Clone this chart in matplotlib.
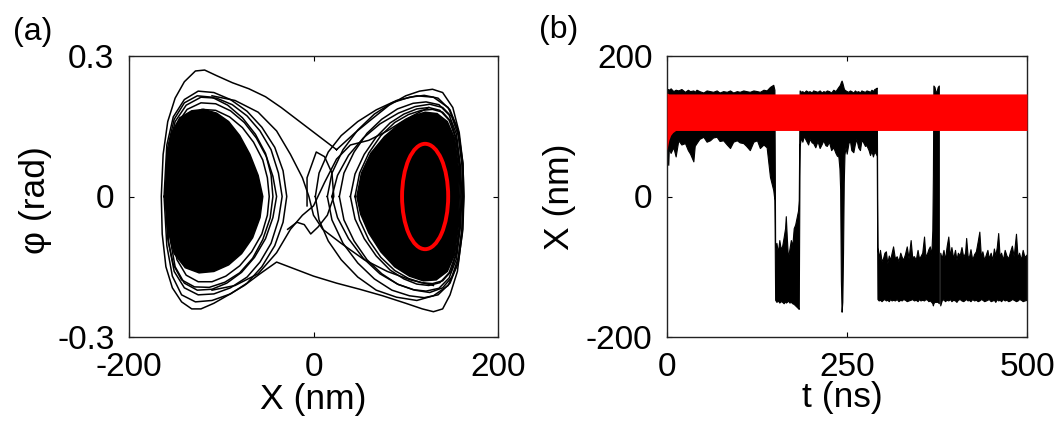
import numpy as np
import matplotlib
matplotlib.use("Agg")
import matplotlib.pyplot as plt
from matplotlib.patches import Ellipse, Polygon

plt.rcParams['font.family'] = ['Liberation Sans', 'DejaVu Sans']
plt.rcParams['axes.unicode_minus'] = False

# ---------------- Panel (a): phase portrait (X in nm, phi in rad) ----------------
left_core_x = [-160, -159, -154, -145, -132, -119, -105, -92, -80, -69, -60, -55, -58, -66, -78, -92, -108, -124, -139, -151, -158]
left_core_phi = [0.0, 0.08, 0.135, 0.168, 0.183, 0.186, 0.178, 0.16, 0.13, 0.09, 0.045, 0.0, -0.045, -0.088, -0.122, -0.146, -0.16, -0.163, -0.152, -0.122, -0.07]

right_core_x = [47, 52, 62, 77, 93, 108, 121, 134, 145, 153, 157, 158, 157, 153, 145, 133, 119, 104, 88, 73, 60, 51]
right_core_phi = [0.0, 0.05, 0.092, 0.128, 0.155, 0.172, 0.18, 0.177, 0.16, 0.124, 0.063, 0.0, -0.063, -0.124, -0.16, -0.178, -0.18, -0.17, -0.15, -0.118, -0.078, -0.037]

ringLa_x = [-160, -157, -150, -138, -122, -105, -88, -72, -58, -46, -38, -34, -38, -46, -58, -72, -90, -108, -125, -140, -151, -157, -160]
ringLa_phi = [0, 0.1, 0.16, 0.195, 0.212, 0.21, 0.196, 0.172, 0.14, 0.1, 0.05, 0, -0.05, -0.1, -0.14, -0.172, -0.195, -0.208, -0.21, -0.195, -0.16, -0.1, 0]
ringLb_x = [-158, -155, -148, -137, -122, -106, -90, -75, -62, -51, -44, -40, -44, -52, -64, -78, -94, -110, -126, -140, -150, -155, -158]
ringLb_phi = [0, 0.1, 0.155, 0.186, 0.2, 0.198, 0.183, 0.158, 0.125, 0.085, 0.043, 0, -0.045, -0.09, -0.13, -0.162, -0.185, -0.198, -0.2, -0.185, -0.15, -0.095, 0]
ringLc_x = [-162, -159, -152, -140, -125, -108, -90, -72, -56, -42, -33, -29, -33, -42, -56, -72, -90, -110, -128, -143, -153, -159, -162]
ringLc_phi = [0, 0.11, 0.17, 0.207, 0.225, 0.222, 0.207, 0.182, 0.148, 0.105, 0.055, 0, -0.055, -0.105, -0.15, -0.185, -0.208, -0.222, -0.225, -0.21, -0.17, -0.105, 0]
ringLd_x = [-156, -153, -146, -135, -121, -106, -91, -77, -65, -55, -50, -48, -50, -56, -67, -80, -95, -110, -125, -138, -148, -153, -156]
ringLd_phi = [0, 0.1, 0.148, 0.174, 0.186, 0.184, 0.17, 0.147, 0.116, 0.078, 0.04, 0, -0.04, -0.08, -0.118, -0.148, -0.17, -0.182, -0.182, -0.168, -0.135, -0.085, 0]
ringLe_x = [-161, -158, -151, -140, -126, -110, -93, -77, -63, -52, -46, -44, -47, -55, -66, -80, -96, -113, -129, -143, -152, -158, -161]
ringLe_phi = [0, 0.105, 0.165, 0.2, 0.215, 0.212, 0.195, 0.168, 0.133, 0.092, 0.046, 0, -0.046, -0.092, -0.132, -0.163, -0.183, -0.194, -0.193, -0.178, -0.145, -0.09, 0]

ringRa_x = [15, 20, 32, 48, 66, 85, 104, 120, 135, 148, 157, 162, 163, 162, 157, 148, 135, 120, 104, 85, 66, 48, 32, 20, 15]
ringRa_phi = [0, 0.05, 0.1, 0.142, 0.176, 0.2, 0.212, 0.216, 0.21, 0.185, 0.14, 0.07, 0, -0.07, -0.14, -0.185, -0.21, -0.216, -0.212, -0.2, -0.176, -0.142, -0.1, -0.05, 0]
ringRb_x = [28, 33, 44, 58, 74, 91, 108, 122, 136, 147, 155, 159, 161, 159, 155, 147, 136, 122, 108, 91, 74, 58, 44, 33, 28]
ringRb_phi = [0, 0.05, 0.095, 0.135, 0.165, 0.187, 0.199, 0.202, 0.196, 0.174, 0.133, 0.068, 0, -0.068, -0.133, -0.174, -0.196, -0.202, -0.199, -0.187, -0.165, -0.135, -0.095, -0.05, 0]
ringRc_x = [40, 45, 55, 68, 83, 98, 112, 125, 137, 147, 154, 158, 159, 158, 154, 147, 137, 125, 112, 98, 83, 68, 55, 45, 40]
ringRc_phi = [0, 0.048, 0.09, 0.127, 0.157, 0.176, 0.187, 0.19, 0.184, 0.163, 0.125, 0.064, 0, -0.064, -0.125, -0.163, -0.184, -0.19, -0.187, -0.176, -0.157, -0.127, -0.09, -0.048, 0]
ringRd_x = [2, 6, 16, 30, 48, 68, 90, 112, 130, 146, 156, 161, 162, 161, 156, 146, 130, 112, 90, 68, 48, 30, 16, 6, 2]
ringRd_phi = [0, 0.05, 0.095, 0.13, 0.16, 0.185, 0.205, 0.215, 0.212, 0.19, 0.145, 0.075, 0, -0.075, -0.145, -0.19, -0.212, -0.222, -0.215, -0.2, -0.172, -0.135, -0.095, -0.05, 0]
ringRe_x = [45, 50, 60, 73, 88, 103, 117, 129, 140, 149, 155, 159, 160, 159, 155, 149, 140, 129, 117, 103, 88, 73, 60, 50, 45]
ringRe_phi = [0, 0.05, 0.093, 0.13, 0.158, 0.175, 0.184, 0.186, 0.18, 0.16, 0.122, 0.062, 0, -0.062, -0.122, -0.16, -0.18, -0.186, -0.184, -0.175, -0.158, -0.13, -0.093, -0.05, 0]
ringRf_x = [20, 26, 38, 54, 72, 92, 110, 126, 140, 150, 157, 161, 162, 161, 157, 150, 140, 126, 110, 92, 72, 54, 38, 26, 20]
ringRf_phi = [0, 0.045, 0.088, 0.125, 0.155, 0.178, 0.192, 0.197, 0.19, 0.17, 0.13, 0.066, 0, -0.066, -0.13, -0.172, -0.195, -0.205, -0.2, -0.188, -0.165, -0.132, -0.09, -0.045, 0]

outer_x = [25, 5, -15, -35, -52, -70, -88, -105, -118, -128, -140, -150, -158, -163, -165, -164, -160, -153, -143, -132, -122, -108, -92, -75, -58, -40, -20, 0, 25, 50, 75, 100, 118, 130, 140, 148, 156, 161, 163, 162, 158, 151, 140, 129, 115, 100, 82, 63, 45, 25]
outer_phi = [0.10, 0.13, 0.16, 0.19, 0.213, 0.23, 0.243, 0.258, 0.27, 0.268, 0.245, 0.21, 0.16, 0.09, 0.0, -0.08, -0.15, -0.195, -0.225, -0.24, -0.24, -0.228, -0.21, -0.19, -0.165, -0.14, -0.155, -0.17, -0.185, -0.198, -0.212, -0.228, -0.24, -0.246, -0.24, -0.21, -0.16, -0.08, 0.0, 0.07, 0.136, 0.19, 0.222, 0.229, 0.225, 0.215, 0.195, 0.165, 0.136, 0.10]

cross1_x = [-110, -85, -60, -40, -25, -12, -5, 0, 10, 30, 55, 80, 105, 130]
cross1_phi = [0.215, 0.205, 0.18, 0.14, 0.09, 0.04, 0.0, -0.04, -0.07, -0.1, -0.135, -0.16, -0.178, -0.19]
cross2_x = [-110, -85, -60, -40, -25, -12, 0, 12, 25, 40, 60, 80, 100, 125]
cross2_phi = [-0.2, -0.19, -0.165, -0.12, -0.07, -0.04, -0.02, 0.03, 0.08, 0.11, 0.12, 0.14, 0.165, 0.19]
center_x = [-28, -18, -10, -3, 5, 15, 22, 20, 12, 3, -7, -7]
center_phi = [-0.07, -0.055, -0.06, -0.08, -0.065, -0.04, 0.0, 0.05, 0.085, 0.095, 0.04, -0.02]

cycle_center = (121, 0.0)
cycle_width = 50
cycle_height = 0.225

# ---------------- Panel (b): time series ----------------
up1_t = [0, 1.8, 2.5, 5, 8.8, 12, 15.7, 20, 25, 29, 32, 36.6, 38.5, 41, 45, 50.5, 55, 59.7, 64, 69, 73, 78, 83, 87.5, 92, 97, 101, 106, 110, 115, 120, 125, 129, 134, 138.4, 143, 147.6, 149.2]
up1_hi = [145, 153, 151, 154, 150, 152, 151, 153, 149, 152, 150, 151, 149, 152, 150, 148, 151, 150, 149, 151, 148, 150, 149, 151, 148, 150, 149, 151, 150, 149, 151, 150, 149, 152, 151, 156, 159, 152]
up1_lo = [55, 45, 69, 62, 70, 57, 80, 74, 76, 66, 61, 50, 72, 76, 82, 85, 78, 80, 84, 85, 79, 80, 74, 69, 78, 80, 77, 76, 72, 66, 78, 80, 69, 74, 70, 28, 9, -5]

dn1_t = [150.2, 152, 154, 156, 158, 160, 162, 164, 165, 166.5, 168, 170, 172, 174, 176, 178, 180, 182, 183]
dn1_hi = [-72, -66, -80, -62, -75, -70, -58, -45, -28, -60, -88, -75, -62, -70, -45, -40, -30, -20, -5]
dn1_lo = [-147, -150, -148, -151, -149, -150, -152, -149, -151, -150, -148, -151, -150, -152, -153, -155, -157, -159, -160]

up2_t = [184.2, 186, 188, 190, 193, 196, 198, 201, 203, 206, 209, 212, 215, 217, 220, 222, 225, 228, 231, 234, 236, 238, 239.5]
up2_hi = [151, 149, 150, 148, 151, 149, 150, 148, 151, 150, 149, 151, 148, 150, 149, 151, 150, 148, 152, 150, 153, 156, 158]
up2_lo = [72, 84, 78, 86, 80, 74, 82, 77, 76, 70, 79, 69, 75, 80, 73, 72, 78, 66, 70, 62, 58, 57, 40]

sp1_t = [240.5, 241.5, 242.5, 243.5, 244.5, 245.5, 246.5]
sp1_hi = [160, 163, 165, 162, 158, 154, 152]
sp1_lo = [10, -120, -164, -150, -80, 20, 60]

up3_t = [248, 249.6, 252, 254, 256, 258.8, 261, 263, 265.5, 268, 270, 272, 275, 277, 280, 282, 284, 286, 288, 290, 291.3]
up3_hi = [151, 150, 149, 151, 150, 148, 151, 149, 150, 148, 151, 150, 149, 151, 150, 149, 152, 150, 153, 154, 155]
up3_lo = [70, 61, 76, 80, 66, 63, 75, 82, 70, 66, 80, 78, 72, 73, 66, 59, 65, 57, 64, 61, 58]

dn2_t = [292.3, 294, 295.8, 298, 300, 302, 304, 306, 308, 310, 312, 314, 316.5, 319, 321.5, 324, 326, 328, 330.5, 333, 335.5, 338.4, 340.5, 343, 345.5, 348, 350, 352, 354.5, 357, 359, 361.5, 363, 365, 367, 368.5, 369.3]
dn2_hi = [-72, -88, -76, -92, -88, -80, -78, -95, -84, -90, -80, -71, -88, -85, -92, -80, -86, -90, -82, -71, -88, -62, -86, -85, -90, -76, -88, -85, -80, -57, -86, -80, -75, -71, -84, -48, 30]
dn2_lo = [-146, -148, -147, -149, -147, -146, -148, -147, -149, -146, -148, -147, -148, -146, -149, -147, -148, -146, -147, -149, -148, -147, -146, -148, -147, -149, -146, -148, -147, -148, -146, -147, -149, -148, -150, -152, -155]

sp2_t = [370, 371.5, 373, 374.5, 376, 377.5]
sp2_hi = [158, 156, 149, 150, 156, 158]
sp2_lo = [-152, -150, -150, -150, -150, -152]

dn3_t = [379.5, 381.5, 384, 386, 388.5, 390.7, 393, 395, 397.5, 400, 402, 404, 406.5, 409, 411.5, 414, 415.5, 417.5, 419, 421.5, 424, 426.5, 429, 431.5, 433.8, 436, 438, 440.5, 443, 445, 447, 449.5, 452, 454, 456, 458, 460, 462, 464, 466.5, 469, 471.5, 474, 476.5, 479, 481.5, 484.7, 487, 489, 491.5, 494, 496.5, 500]
dn3_hi = [-80, -88, -76, -90, -70, -57, -85, -72, -88, -76, -90, -80, -84, -72, -86, -80, -59, -84, -88, -75, -90, -82, -78, -64, -50, -86, -78, -90, -82, -76, -88, -80, -90, -74, -84, -72, -52, -86, -80, -90, -76, -84, -88, -78, -70, -85, -53, -88, -80, -90, -76, -86, -82]
dn3_lo = [-155, -148, -146, -149, -147, -148, -146, -149, -147, -148, -150, -147, -146, -148, -149, -147, -146, -148, -147, -149, -146, -148, -147, -149, -148, -146, -147, -149, -148, -147, -146, -149, -148, -147, -150, -146, -148, -147, -149, -146, -148, -147, -149, -148, -146, -147, -149, -148, -146, -147, -149, -148, -147]

red_t = [0, 1, 2.5, 5, 8, 12, 500]
red_hi = [147, 147, 146, 146, 146, 146, 146]
red_lo = [66, 72, 80, 87, 91, 94, 94]

# ---------------- Figure ----------------
W, H = 1062, 421
fig = plt.figure(figsize=(W / 100, H / 100), dpi=100)
axA = fig.add_axes([129 / W, 1 - 337 / H, 369 / W, 281 / H])
axB = fig.add_axes([667 / W, 1 - 337 / H, 360 / W, 281 / H])

TICK_FS = 24
LABEL_FS = 25.5

lw = 1.1
axA.add_patch(Polygon(np.column_stack([left_core_x, left_core_phi]), closed=True,
                      facecolor='black', edgecolor='black', lw=lw))
axA.add_patch(Polygon(np.column_stack([right_core_x, right_core_phi]), closed=True,
                      facecolor='black', edgecolor='black', lw=lw))
for xs, ps in [(ringLa_x, ringLa_phi), (ringLb_x, ringLb_phi), (ringLc_x, ringLc_phi),
               (ringLd_x, ringLd_phi), (ringLe_x, ringLe_phi),
               (ringRa_x, ringRa_phi), (ringRb_x, ringRb_phi), (ringRc_x, ringRc_phi),
               (ringRd_x, ringRd_phi), (ringRe_x, ringRe_phi), (ringRf_x, ringRf_phi),
               (outer_x, outer_phi), (cross1_x, cross1_phi), (cross2_x, cross2_phi),
               (center_x, center_phi)]:
    axA.plot(xs, ps, color='black', lw=lw)
axA.add_patch(Ellipse(cycle_center, cycle_width, cycle_height, facecolor='none',
                      edgecolor='#ff0000', lw=2.8, zorder=5))

axA.set_xlim(-200, 200)
axA.set_ylim(-0.3, 0.3)
axA.set_xticks([-200, 0, 200])
axA.set_xticklabels(['-200', '0', '200'])
axA.set_yticks([-0.3, 0, 0.3])
axA.set_yticklabels(['-0.3', '0', '0.3'])

# Panel (b)
segA_t = up1_t + dn1_t + up2_t + sp1_t + up3_t + dn2_t + sp2_t
segA_hi = up1_hi + dn1_hi + up2_hi + sp1_hi + up3_hi + dn2_hi + sp2_hi
segA_lo = up1_lo + dn1_lo + up2_lo + sp1_lo + up3_lo + dn2_lo + sp2_lo
axB.fill_between(segA_t, segA_lo, segA_hi, color='black', lw=0.8, edgecolor='black')
axB.fill_between(dn3_t, dn3_lo, dn3_hi, color='black', lw=0.8, edgecolor='black')
axB.fill_between(red_t, red_lo, red_hi, color='#ff0000', lw=0, zorder=4)

axB.set_xlim(0, 500)
axB.set_ylim(-200, 200)
axB.set_xticks([0, 250, 500])
axB.set_yticks([-200, 0, 200])
axB.set_yticklabels(['-200', '0', '200'])

for ax in (axA, axB):
    ax.tick_params(direction='in', top=True, right=True, length=3.5, width=0.8,
                   labelsize=TICK_FS, pad=10.5)
    for s in ax.spines.values():
        s.set_linewidth(1.0)
        s.set_color('#222222')

fig.text(313 / W, 1 - 399 / H, 'X (nm)', ha='center', va='center', fontsize=LABEL_FS)
fig.text(36 / W, 1 - 200 / H, 'φ (rad)', ha='center', va='center', rotation=90, fontsize=LABEL_FS)
fig.text(842 / W, 1 - 397 / H, 't (ns)', ha='center', va='center', fontsize=LABEL_FS)
fig.text(560 / W, 1 - 197 / H, 'X (nm)', ha='center', va='center', rotation=90, fontsize=LABEL_FS)
fig.text(33 / W, 1 - 32 / H, '(a)', ha='center', va='center', fontsize=23)
fig.text(559 / W, 1 - 30 / H, '(b)', ha='center', va='center', fontsize=23)

fig.savefig('out.png', dpi=100)
